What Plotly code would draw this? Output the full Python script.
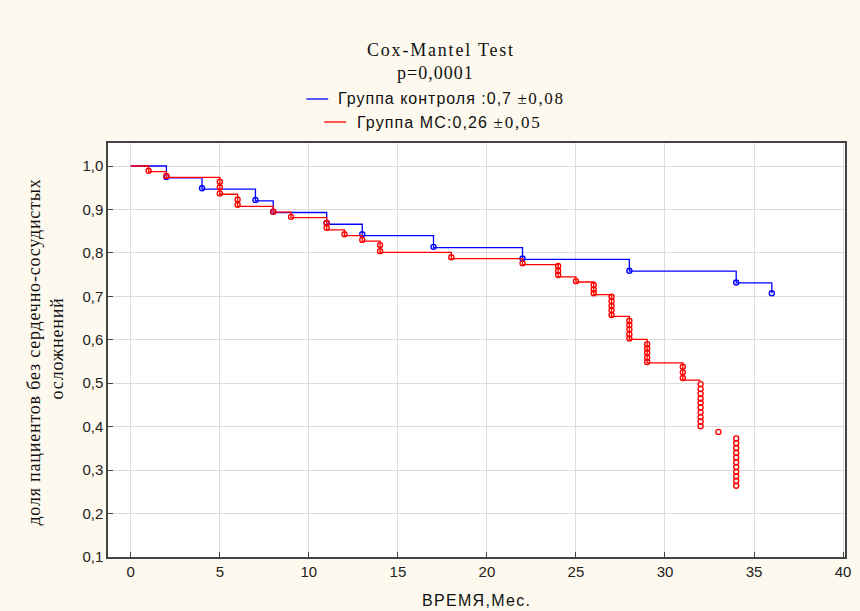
import plotly.graph_objects as go

# ---------------- data ----------------
# Control group (blue): step times and survival after each step
blue_times = [0, 2, 4, 7, 8, 11, 13, 17, 22, 28, 34, 36]
blue_surv = [1.0, 0.973, 0.947, 0.920, 0.893, 0.866, 0.840, 0.812, 0.785, 0.758, 0.731, 0.707]
# complete observations (circles) for control group
blue_circle_t = [2, 4, 7, 8, 11, 13, 17, 22, 28, 34, 36]
blue_circle_s = [0.975, 0.949, 0.922, 0.895, 0.869, 0.843, 0.814, 0.787, 0.759, 0.732, 0.707]

# MS group (red): step times and survival after each step (line ends at 32)
red_times = [0, 1, 2, 5, 6, 8, 9, 11, 12, 13, 14, 18, 22, 24, 25, 26, 27, 28, 29, 31, 32]
red_surv = [1.0, 0.987, 0.974, 0.935, 0.907, 0.894, 0.881, 0.853, 0.840, 0.827, 0.801,
            0.787, 0.773, 0.745, 0.733, 0.704, 0.654, 0.601, 0.547, 0.507, 0.507]
# complete observations (circles) for MS group
red_circle_t = [1, 2,
                5, 5, 5,
                6, 6,
                8, 9,
                11, 11,
                12, 13,
                14, 14,
                18, 22,
                24, 24, 24,
                25,
                26, 26, 26,
                27, 27, 27, 27, 27,
                28, 28, 28, 28, 28,
                29, 29, 29, 29, 29,
                31, 31, 31,
                32, 32, 32, 32, 32, 32, 32, 32, 32, 32,
                33,
                34, 34, 34, 34, 34, 34, 34, 34, 34, 34, 34]
red_circle_s = [0.989, 0.977,
                0.964, 0.951, 0.937,
                0.923, 0.911,
                0.895, 0.883,
                0.869, 0.858,
                0.843, 0.830,
                0.818, 0.804,
                0.790, 0.776,
                0.770, 0.759, 0.749,
                0.735,
                0.726, 0.716, 0.707,
                0.699, 0.689, 0.678, 0.668, 0.657,
                0.644, 0.634, 0.624, 0.613, 0.603,
                0.590, 0.580, 0.570, 0.559, 0.549,
                0.538, 0.525, 0.512,
                0.498, 0.487, 0.476, 0.465, 0.455, 0.444, 0.433, 0.422, 0.412, 0.401,
                0.388,
                0.373, 0.362, 0.351, 0.340, 0.329, 0.318, 0.307, 0.296, 0.286, 0.275, 0.264]

title_lines = ["Cox-Mantel Test", "p=0,0001"]
legend_blue = "Группа контроля :0,7 "
legend_blue_err = "±0,08"
legend_red = "Группа МС:0,26 "
legend_red_err = "±0,05"
x_title = "ВРЕМЯ,Мес."
y_title = ["доля пациентов без сердечно-сосудистых", "осложнений"]

x_ticks = [0, 5, 10, 15, 20, 25, 30, 35, 40]
y_ticks = [0.1, 0.2, 0.3, 0.4, 0.5, 0.6, 0.7, 0.8, 0.9, 1.0]

BLUE = "#0000FF"
RED = "#FF0000"
BG = "#FDF9EE"

# ---------------- layout geometry (pixels) ----------------
W, H = 860, 611
PL, PR, PT, PB = 108, 851, 143, 557


def px(x):
    return (x - PL) / (PR - PL)


def py(y):
    return (PB - y) / (PB - PT)


def spaced(s, sp):
    return "<span style=\"letter-spacing:%spx\">%s</span>" % (sp, s)


def serif_part(s, sp):
    return ("<span style=\"font-family:Liberation Serif;font-size:17px;letter-spacing:%spx\">%s</span>"
            % (sp, s))


fig = go.Figure()

fig.add_trace(go.Scatter(x=blue_times, y=blue_surv, mode="lines", line_shape="hv",
                         line=dict(color=BLUE, width=1.3), hoverinfo="skip", showlegend=False))
fig.add_trace(go.Scatter(x=blue_circle_t, y=blue_circle_s, mode="markers",
                         marker=dict(symbol="circle-open", size=5, color=BLUE, line=dict(width=1.4, color=BLUE)),
                         hoverinfo="skip", showlegend=False))
fig.add_trace(go.Scatter(x=red_times, y=red_surv, mode="lines", line_shape="hv",
                         line=dict(color=RED, width=1.3), hoverinfo="skip", showlegend=False))
fig.add_trace(go.Scatter(x=red_circle_t, y=red_circle_s, mode="markers",
                         marker=dict(symbol="circle-open", size=5, color=RED, line=dict(width=1.4, color=RED)),
                         hoverinfo="skip", showlegend=False))

serif = "Liberation Serif, Times New Roman, serif"
sans = "Liberation Sans, Arial, sans-serif"

annotations = [
    dict(text=spaced(title_lines[0], 1.8), x=px(444), y=py(50), font=dict(family=serif, size=18, color="#111")),
    dict(text=spaced(title_lines[1], 1.0), x=px(438), y=py(73), font=dict(family=serif, size=18, color="#111")),
    dict(text=spaced(legend_blue, 1.0) + serif_part(legend_blue_err, 1.6),
         x=px(338), y=py(99), xanchor="left", font=dict(family=sans, size=16, color="#111")),
    dict(text=spaced(legend_red, 1.1) + serif_part(legend_red_err, 1.8),
         x=px(357), y=py(122), xanchor="left", font=dict(family=sans, size=16, color="#111")),
    dict(text=spaced(x_title, 1.3), x=px(479), y=py(600), font=dict(family=sans, size=16, color="#111")),
    dict(text=spaced(y_title[0], 0.8), x=px(33), y=py(352), textangle=-90,
         font=dict(family=serif, size=18, color="#111")),
    dict(text=spaced(y_title[1], 0.8), x=px(57), y=py(348), textangle=-90,
         font=dict(family=serif, size=18, color="#111")),
]
for a in annotations:
    a.setdefault("xanchor", "center")
    a.update(xref="paper", yref="paper", yanchor="middle", showarrow=False)

shapes = [
    dict(type="line", xref="paper", yref="paper", x0=px(308), x1=px(330), y0=py(99), y1=py(99),
         line=dict(color=BLUE, width=1.3)),
    dict(type="line", xref="paper", yref="paper", x0=px(326), x1=px(348), y0=py(122), y1=py(122),
         line=dict(color=RED, width=1.3)),
]

fig.update_layout(
    width=W, height=H,
    margin=dict(l=PL, r=W - PR, t=PT, b=H - PB, pad=0),
    paper_bgcolor=BG, plot_bgcolor="white",
    separators=", ",
    showlegend=False,
    annotations=annotations,
    shapes=shapes,
    xaxis=dict(range=[-1.28, 40.11], tickvals=x_ticks, showgrid=True, gridcolor="#dcdcdc", gridwidth=1,
               zeroline=False, showline=True, mirror=True, linecolor="#444", linewidth=1.5,
               ticks="inside", ticklen=5, tickcolor="#444",
               tickfont=dict(family=sans, size=15, color="#222")),
    yaxis=dict(range=[0.1, 1.053], tickvals=y_ticks, tickformat=".1f", showgrid=True, gridcolor="#dcdcdc",
               gridwidth=1, zeroline=False, showline=True, mirror=True, linecolor="#444", linewidth=1.5,
               ticks="inside", ticklen=5, tickcolor="#444",
               tickfont=dict(family=sans, size=15, color="#222")),
)

fig.write_html("out.html")
